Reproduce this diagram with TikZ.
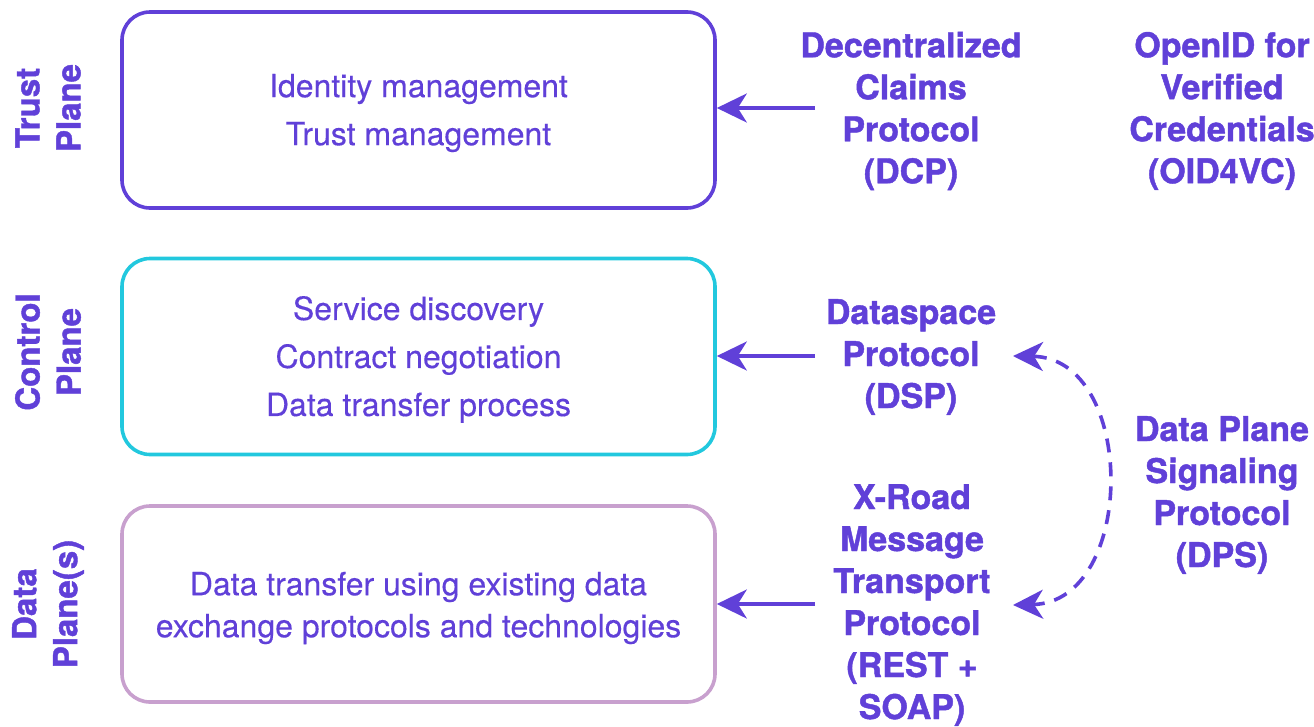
\documentclass[tikz,border=0pt]{standalone}
\usepackage{fontspec}
\setmainfont{TeX Gyre Heros}[UprightFeatures={FakeBold=0.3},BoldFeatures={FakeBold=1.3}]
\usetikzlibrary{arrows.meta}
\definecolor{pur}{RGB}{96,64,216}
\definecolor{cyn}{RGB}{34,200,222}
\definecolor{lil}{RGB}{200,160,206}
\begin{document}
\begin{tikzpicture}[x=1pt,y=-1pt,
  plane/.style={draw, line width=3.6pt, rounded corners=28pt, minimum width=593pt, minimum height=196pt, inner sep=0pt},
  boxtext/.style={align=center, text=pur, inner sep=0pt},
  sidelab/.style={rotate=90, align=center, text=pur, font=\fontsize{33}{41}\selectfont\bfseries, inner sep=0pt},
  proto/.style={align=center, text=pur, font=\fontsize{34}{42}\selectfont\bfseries, inner sep=0pt},
  arr/.style={draw=pur, line width=3.6pt, -{Stealth[length=30pt,width=29pt,inset=9pt]}},
  dasharr/.style={draw=pur, line width=3.6pt, dash pattern=on 14pt off 10pt, {Stealth[length=30pt,width=29pt,inset=9pt]}-{Stealth[length=30pt,width=29pt,inset=9pt]}}
]
\useasboundingbox (0,0) rectangle (1314,726);

% planes
\node[plane, draw=pur] (trust) at (418.5,110) {};
\node[plane, draw=cyn] (control) at (418.5,356.5) {};
\node[plane, draw=lil] (data) at (418.5,604) {};
\node[boxtext, font=\fontsize{32}{48}\selectfont] (trusttxt) at (418.5,113) {Identity management\\Trust management};
\node[boxtext, font=\fontsize{32}{48}\selectfont] (controltxt) at (418.5,359.5) {Service discovery\\Contract negotiation\\Data transfer process};
\node[boxtext, font=\fontsize{32}{42}\selectfont] (datatxt) at (418.5,608) {Data transfer using existing data\\exchange protocols and technologies};

% side labels
\node[sidelab] (tl) at (48,108) {Trust\\Plane};
\node[sidelab] (cl) at (48,352) {Control\\Plane};
\node[sidelab] (dl) at (48,604) {Data\\Plane(s)};

% protocol labels
\node[proto] (dcp) at (911,111) {Decentralized\\Claims\\Protocol\\(DCP)};
\node[proto] (oid) at (1222,111) {OpenID for\\Verified\\Credentials\\(OID4VC)};
\node[proto] (dsp) at (911,357) {Dataspace\\Protocol\\(DSP)};
\node[proto] (xroad) at (912,605) {X-Road\\Message\\Transport\\Protocol\\(REST +\\SOAP)};
\node[proto] (dps) at (1222,495) {Data Plane\\Signaling\\Protocol\\(DPS)};

% connectors
\coordinate (dcpt) at (815,108);
\coordinate (dspt) at (815,356);
\coordinate (xrt) at (815,604);
\draw[arr] (dcpt) -- (dcpt -| trust.east);
\draw[arr] (dspt) -- (dspt -| control.east);
\draw[arr] (xrt) -- (xrt -| data.east);

\coordinate (dsph) at (1013,356);
\coordinate (xrh) at (1013,605);
\draw[dasharr] (dsph) .. controls (1137,358) and (1137,602) .. (xrh);
\end{tikzpicture}
\end{document}
